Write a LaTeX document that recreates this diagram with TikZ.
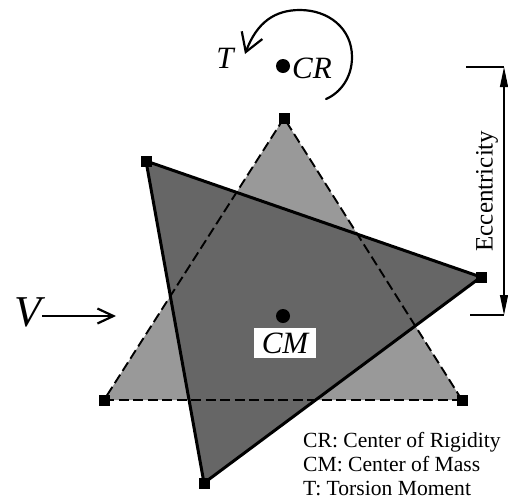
\documentclass[tikz,border=0pt]{standalone}
\usepackage{fontspec}
\setmainfont{Liberation Serif}
\usetikzlibrary{arrows.meta}
\tikzset{
  corner/.style={fill=black,inner sep=0pt,minimum size=11pt,rectangle},
  ctr/.style={fill=black,circle,inner sep=0pt,minimum size=14pt},
  hidden/.style={draw=black,line width=1.9pt,dash pattern=on 10pt off 4.5pt},
  solidedge/.style={draw=black,line width=3pt,line join=round},
  lbl/.style={inner sep=0pt,font=\itshape\fontsize{31}{31}\selectfont},
  legend/.style={inner sep=0pt,anchor=base west,font=\fontsize{21.6}{22}\selectfont}
}
\colorlet{lightgr}{black!40}
\colorlet{darkgr}{black!60}
\begin{document}
\begin{tikzpicture}[x=1pt,y=-1pt]
\useasboundingbox (0,0) rectangle (508,499);
\coordinate (la) at (284,118);
\coordinate (lb) at (104,400);
\coordinate (lc) at (462,400);
\coordinate (da) at (146,161);
\coordinate (db) at (481,277);
\coordinate (dc) at (204,483);
\fill[lightgr] (la) -- (lb) -- (lc) -- cycle;
\fill[darkgr] (da) -- (db) -- (dc) -- cycle;
\draw[hidden] (la) -- (lb);
\draw[hidden] (lb) -- (lc);
\draw[hidden] (lc) -- (la);
\draw[solidedge] (da) -- (db);
\draw[solidedge] (db) -- (dc);
\draw[solidedge] (dc) -- (da);
\foreach \p in {la,lb,lc,da,db,dc} \node[corner] at (\p) {};
% centres
\node[ctr] (cr) at (283,66) {};
\node[lbl,anchor=west] (crt) at (292,68) {CR};
\node[ctr] (cm) at (283,316) {};
\node[fill=white,minimum width=62pt,minimum height=30pt,inner sep=0pt,font=\itshape\fontsize{31}{31}\selectfont] (cmt) at (285,343) {CM};
% torsion
\coordinate (ts) at (326,99);
\coordinate (te) at (245,54);
\draw[line width=2.2pt,line cap=round,-{Straight Barb[length=18pt,width=22pt,line width=2.2pt]}]
  (ts) .. controls (340,93) and (352,78) .. (352,57)
  .. controls (352,28) and (328,10) .. (300,10)
  .. controls (275,10) and (257,22) .. (te);
\node[lbl] (t) at (225,58) {T};
% shear
\coordinate (vs) at (42,316);
\coordinate (ve) at (116,316);
\node[font=\itshape\fontsize{44}{44}\selectfont,inner sep=0pt] (v) at (28,312) {V};
\draw[line width=2.2pt,-{Straight Barb[length=16pt,width=15pt,line width=2.2pt]}] (vs) -- (ve);
% eccentricity
\coordinate (e1) at (466,67);
\coordinate (e2) at (504,67);
\coordinate (e3) at (470,315);
\coordinate (e4) at (504,315);
\draw[line width=1.2pt] (e1) -- (e2);
\draw[line width=1.2pt] (e3) -- (e4);
\draw[line width=1.2pt,{Triangle[length=20pt,width=8pt]}-{Triangle[length=20pt,width=8pt]}] (e2) -- (e4);
\node[rotate=90,inner sep=0pt,font=\fontsize{25}{25}\selectfont] (ec) at (487,191) {Eccentricity};
% legend
\node[legend] (l1) at (303,447) {CR: Center of Rigidity};
\node[legend] (l2) at (303,471.5) {CM: Center of Mass};
\node[legend] (l3) at (303,495) {T: Torsion Moment};
\end{tikzpicture}
\end{document}
